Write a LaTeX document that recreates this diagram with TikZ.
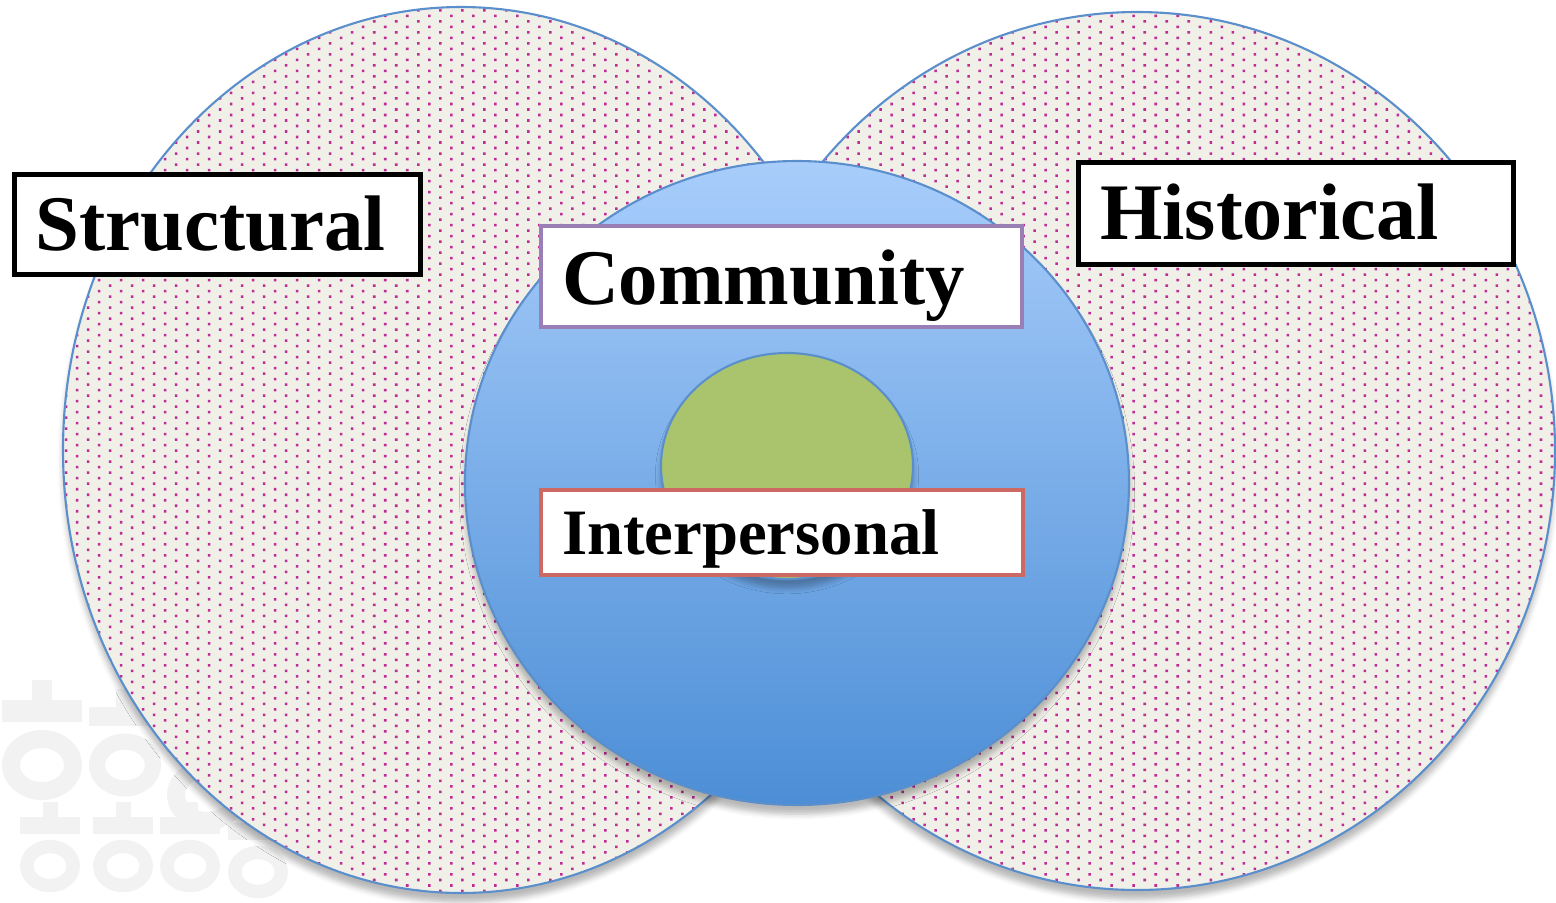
\documentclass[tikz,border=0pt]{standalone}
\usepackage{fontspec}
\setmainfont{Liberation Serif}
\usetikzlibrary{patterns,shadows.blur}

\definecolor{ringblue}{HTML}{5B8FCC}
\definecolor{paper}{HTML}{F0EFE8}
\definecolor{dotpink}{HTML}{BE2C96}
\definecolor{skytop}{HTML}{A8CDFB}
\definecolor{skybottom}{HTML}{4C8ED6}
\definecolor{leaf}{HTML}{AAC46D}
\definecolor{lilac}{HTML}{9A7EB6}
\definecolor{brick}{HTML}{CC6963}
\definecolor{ghost}{HTML}{F2F2F2}

% staggered dots, 11px apart
\pgfdeclarepatternformonly{pinkdots}{\pgfqpoint{-0.4pt}{-0.4pt}}{\pgfqpoint{3.6pt}{2pt}}{\pgfqpoint{6.26pt}{3.13pt}}{%
  \pgfpathrectangle{\pgfqpoint{-0.36pt}{-0.36pt}}{\pgfqpoint{0.72pt}{0.72pt}}%
  \pgfpathrectangle{\pgfqpoint{2.77pt}{1.205pt}}{\pgfqpoint{0.72pt}{0.72pt}}%
  \pgfusepath{fill}}

\tikzset{
  soft/.style={blur shadow={shadow xshift=0pt, shadow yshift=-2.6pt, shadow blur radius=1.6pt, shadow opacity=28}},
  venn/.style={draw=ringblue, line width=0.6pt, soft, preaction={fill=paper}, pattern=pinkdots, pattern color=dotpink},
  tag/.style={draw, fill=white, line width=1.3pt, anchor=north west, inner xsep=0.21cm, inner ysep=0pt, text depth=0pt, align=left},
}

\begin{document}
\begin{tikzpicture}[x=0.01cm, y=-0.01cm]
    \useasboundingbox (0,0) rectangle (1556,902);
    % faint background marks
    \foreach \gx/\gy/\gs in {42/765/1, 125/765/0.9, 207/795/1, 50/866/0.75, 123/866/0.75, 190/866/0.75, 258/872/0.75} {
        \fill[ghost] ({\gx-10*\gs},{\gy-85*\gs}) rectangle ({\gx+10*\gs},{\gy-63*\gs});
        \fill[ghost] ({\gx-40*\gs},{\gy-65*\gs}) rectangle ({\gx+40*\gs},{\gy-43*\gs});
        \fill[ghost, even odd rule] (\gx,\gy) ellipse [x radius=40*\gs, y radius=35*\gs]
            (\gx,\gy) ellipse [x radius=22*\gs, y radius=17*\gs];
    }
    % the two outer sets
    \draw[venn] (461,450) ellipse [x radius=398, y radius=443];
    \draw[venn] (1137,451) ellipse [x radius=418, y radius=439];
    % middle sets
    \draw[ringblue, line width=0.6pt, soft, top color=skytop, bottom color=skybottom] (797,483) ellipse [x radius=332, y radius=322];
    \draw[ringblue, line width=0.6pt, soft, fill=leaf] (787,466) ellipse [x radius=126, y radius=113];
    % labels
    \node[tag, minimum width=4.06cm, text width=3.64cm, minimum height=1cm, text height=0.52cm,
        font=\bfseries\fontsize{22.4}{26}\selectfont] (structural) at (12,172) {Structural};
    \node[tag, inner xsep=0.22cm, minimum width=4.35cm, text width=3.91cm, minimum height=1.02cm, text height=0.53cm,
        font=\bfseries\fontsize{22.8}{26}\selectfont] (historical) at (1076,160) {Historical};
    \node[tag, draw=lilac, line width=1.15pt, minimum width=4.81cm, text width=4.39cm, minimum height=1.01cm, text height=0.55cm,
        font=\bfseries\fontsize{22.4}{26}\selectfont] (community) at (539,224) {Community};
    \node[tag, draw=brick, line width=1.15pt, minimum width=4.82cm, text width=4.40cm, minimum height=0.85cm, text height=0.43cm,
        font=\bfseries\fontsize{18.4}{22}\selectfont] (interpersonal) at (539,488) {Interpersonal};
\end{tikzpicture}
\end{document}
